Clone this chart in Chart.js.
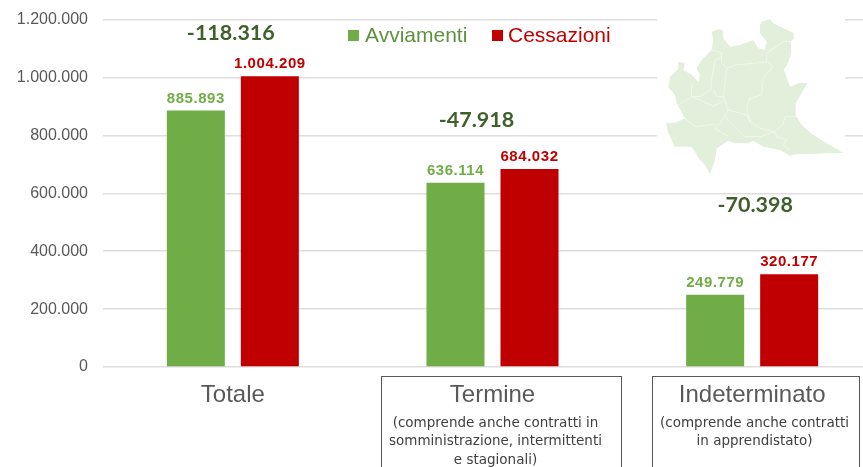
<!DOCTYPE html>
<html><head><meta charset="utf-8">
<script src="https://cdn.jsdelivr.net/npm/chart.js@4"></script>
<style>
html,body{margin:0;padding:0;background:#fff;overflow:hidden;width:863px;height:467px}
#wrap{position:relative;width:863px;height:467px;overflow:hidden;filter:blur(0.45px)}
canvas{position:absolute;left:0;top:-5px}
#mapbg{position:absolute;left:657px;top:0;width:188px;height:180px;background:#fff}
#map{position:absolute;left:620px;top:0;width:243px;height:180px}
.box{position:absolute;top:376px;height:110px;box-sizing:border-box;border:1.5px solid #595959;background:transparent;text-align:center;font:13.5px/18.4px "DejaVu Sans",sans-serif;color:#404040;padding-top:36px;white-space:nowrap}
</style></head><body>
<div id="wrap">
<canvas id="c" width="882" height="472"></canvas>
<div id="mapbg"></div>
<svg id="map" viewBox="0 0 729 540">
<path fill="#e2efda" d="M425 65L450 58 460 70 490 85 520 98 522 115 512 125 514 160 505 185 492 210 510 260 540 248 562 250 545 280 527 310 527 345 545 375 580 405 620 430 670 458 620 460 560 462 530 462 510 468 480 450 430 440 400 422 385 430 345 430 325 422 290 445 285 480 270 522 255 495 240 480 215 440 165 440 145 400 138 368 165 368 195 355 170 310 165 285 145 262 150 230 175 208 175 185 195 190 190 210 215 225 235 245 240 225 230 205 245 180 275 150 280 120 275 95 295 88 308 90 310 115 330 140 360 135 400 120 415 145 435 150 440 125 420 100 420 75Z"/>
<g fill="none" stroke="#f4f9f0" stroke-width="2.2" stroke-linejoin="round">
<path d="M275 150L305 158 305 190 320 205 345 195 420 188 440 185 458 200 430 235 425 285 390 295 380 320 390 365 420 385 465 395 490 370 495 350 530 350"/>
<path d="M440 185L440 160 490 125 512 125"/>
<path d="M305 172L285 180 275 240 272 270 240 290 215 290 175 315"/>
<path d="M320 205L310 290 325 330 300 370 285 385 325 410"/>
<path d="M280 270L290 290 310 290"/>
<path d="M215 255L215 290 250 305 280 318 315 300"/>
<path d="M195 355L225 380 285 372"/>
<path d="M325 330L380 345 390 365"/>
<path d="M310 345L340 375 375 410 420 410 465 395 470 410 500 420 490 435 510 450"/>
</g></svg>
<div class="box" style="left:381px;width:241px;padding-right:12px">(comprende anche contratti in<br>somministrazione, intermittenti<br>e stagionali)</div>
<div class="box" style="left:652px;width:208px;padding-right:3px">(comprende anche contratti<br>in apprendistato)</div>
</div>
<script>
const categories = ["Totale", "Termine", "Indeterminato"];
const avviamenti = [885893, 636114, 249779];
const cessazioni = [1004209, 684032, 320177];
const differenze = ["-118.316", "-47.918", "-70.398"];
const yTicks = [0, 200000, 400000, 600000, 800000, 1000000, 1200000];
const fmt = v => String(v).replace(/\B(?=(\d{3})+(?!\d))/g, ".");

const drawings = {
  id: "drawings",
  afterDatasetsDraw(chart) {
    const ctx = chart.ctx;
    ctx.save();
    ctx.textAlign = "center";
    ctx.textBaseline = "alphabetic";
    // value labels
    const labelColors = ["#70ad47", "#c00000"];
    chart.data.datasets.forEach((ds, i) => {
      chart.getDatasetMeta(i).data.forEach((bar, j) => {
        ctx.font = 'bold 15px "Liberation Sans", sans-serif';
        ctx.letterSpacing = "0.55px";
        ctx.fillStyle = labelColors[i];
        ctx.fillText(fmt(ds.data[j]), bar.x, bar.y - 8);
      });
    });
    ctx.letterSpacing = "0px";
    // differences
    ctx.font = 'bold 21.5px "Lato", sans-serif';
    ctx.fillStyle = "#3f5f2b";
    const dx = [-2, -16, 3], dy = [45, 132, 217];
    differenze.forEach((t, j) => {
      const x = chart.scales.x.getPixelForValue(j);
      ctx.fillText(t, x + dx[j], dy[j]);
    });
    // legend
    ctx.textAlign = "left";
    ctx.font = '21px "Liberation Sans", sans-serif';
    const lx = [348, 492], tx = [365, 508], legText = ["#5f9140", "#c00000"], legBox = ["#70ad47", "#c00000"];
    chart.data.datasets.forEach((ds, i) => {
      ctx.fillStyle = legBox[i];
      ctx.fillRect(lx[i], 35, 11, 11);
      ctx.fillStyle = legText[i];
      ctx.fillText(ds.label, tx[i], 47);
    });
    ctx.restore();
  }
};

new Chart(document.getElementById("c"), {
  type: "bar",
  data: {
    labels: categories,
    datasets: [
      { label: "Avviamenti", data: avviamenti, backgroundColor: "#70ad47" },
      { label: "Cessazioni", data: cessazioni, backgroundColor: "#c00000" }
    ]
  },
  options: {
    responsive: false,
    animation: false,
    devicePixelRatio: 1,
    layout: { padding: { top: 14, left: 0, right: 0, bottom: 0 } },
    categoryPercentage: 0.57,
    barPercentage: 0.784,
    plugins: { legend: { display: false }, title: { display: false }, tooltip: { enabled: false } },
    scales: {
      x: {
        grid: { display: false },
        border: { display: false },
        afterFit(s) { s.height = 100; },
        ticks: { color: "#595959", padding: 6, maxRotation: 0, autoSkip: false,
          font: { family: '"Liberation Sans", sans-serif', size: 24 } }
      },
      y: {
        min: 0, max: 1200000,
        afterFit(s) { s.width = 103; },
        afterBuildTicks(s) { s.ticks = yTicks.map(v => ({ value: v })); },
        grid: { color: "#dedede", lineWidth: 1.5, drawTicks: false },
        border: { display: false },
        ticks: { color: "#595959", padding: 15, callback: v => fmt(v),
          font: { family: '"Liberation Sans", sans-serif', size: 16 } }
      }
    }
  },
  plugins: [drawings]
});
</script>
</body></html>
